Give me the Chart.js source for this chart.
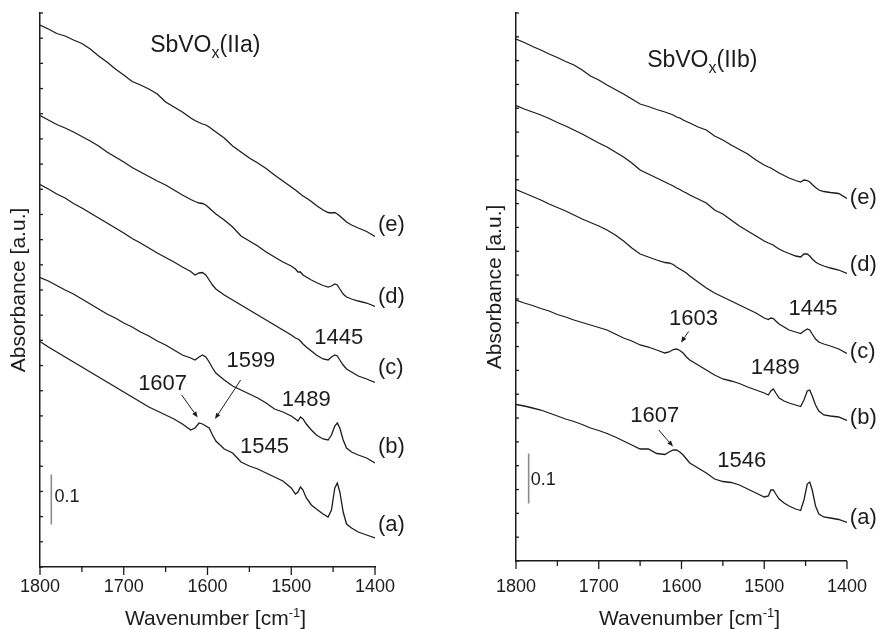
<!DOCTYPE html>
<html>
<head>
<meta charset="utf-8">
<title>SbVOx spectra</title>
<style>
  body { margin: 0; background: #fff; }
  .panel { position: absolute; top: 0; width: 441px; height: 629px; }
</style>
</head>
<body>
<div class="panel" style="left:0"><canvas id="iia" width="441" height="629"></canvas></div>
<div class="panel" style="left:441px"><canvas id="iib" width="441" height="629"></canvas></div>
<script src="https://cdn.jsdelivr.net/npm/chart.js@4.4.1/dist/chart.umd.min.js"></script>
<script>
// wavenumber grid shared by all spectra (cm-1)
const wavenumbers = [1800,1790,1780,1770,1760,1750,1740,1730,1720,1710,1700,1690,1680,1670,1660,1650,1640,1630,1620,
  1615,1610,1606,1602,1598,1594,1590,
  1580,1570,1560,1550,1540,1530,1520,1510,1500,
  1495,1492,1489,1486,1482,1476,1470,1462,1456,1452,1448,1445,1442,1438,1434,1428,1420,1410,1400];

const xTicks = [1800, 1700, 1600, 1500, 1400];
const curveNames = ['(a)', '(b)', '(c)', '(d)', '(e)'];

// SbVOx(IIa), absorbance (stacked)
const iiaA = [0.451,0.440,0.430,0.420,0.410,0.400,0.390,0.380,0.370,0.360,0.350,0.340,0.330,0.320,0.312,0.304,0.296,0.286,0.274,
  0.278,0.288,0.286,0.282,0.278,0.264,0.252,
  0.236,0.228,0.210,0.202,0.196,0.188,0.180,0.172,0.158,
  0.146,0.150,0.160,0.154,0.138,0.124,0.116,0.106,0.100,0.114,0.158,0.168,0.150,0.110,0.086,0.078,0.070,0.064,0.058];
const iiaB = [0.579,0.572,0.563,0.554,0.546,0.536,0.526,0.516,0.506,0.498,0.488,0.480,0.470,0.462,0.452,0.444,0.434,0.424,0.418,
  0.414,0.420,0.424,0.420,0.410,0.398,0.388,
  0.374,0.362,0.354,0.346,0.338,0.328,0.316,0.310,0.302,
  0.296,0.292,0.300,0.296,0.286,0.274,0.264,0.256,0.254,0.264,0.282,0.288,0.278,0.254,0.238,0.230,0.224,0.218,0.208];
const iiaC = [0.765,0.756,0.746,0.738,0.727,0.718,0.708,0.698,0.688,0.678,0.668,0.657,0.648,0.638,0.628,0.619,0.610,0.600,0.591,
  0.584,0.588,0.589,0.584,0.574,0.564,0.556,
  0.544,0.534,0.524,0.514,0.504,0.494,0.484,0.474,0.464,
  0.458,0.456,0.452,0.446,0.440,0.432,0.424,0.416,0.414,0.420,0.424,0.422,0.414,0.404,0.396,0.390,0.382,0.376,0.369];
const iiaD = [0.903,0.894,0.885,0.878,0.870,0.861,0.852,0.842,0.830,0.820,0.810,0.799,0.790,0.781,0.772,0.764,0.754,0.744,0.735,
  0.731,0.728,0.727,0.724,0.718,0.712,0.706,
  0.694,0.680,0.662,0.652,0.642,0.630,0.620,0.610,0.602,
  0.596,0.590,0.590,0.584,0.580,0.574,0.569,0.563,0.560,0.562,0.566,0.564,0.556,0.546,0.540,0.536,0.532,0.528,0.521];
const iiaE = [1.084,1.076,1.067,1.062,1.054,1.047,1.036,1.022,1.010,0.996,0.984,0.971,0.964,0.956,0.946,0.930,0.920,0.910,0.898,
  0.893,0.889,0.886,0.884,0.880,0.875,0.870,
  0.858,0.842,0.830,0.818,0.808,0.797,0.784,0.772,0.760,
  0.754,0.750,0.746,0.742,0.738,0.731,0.723,0.714,0.709,0.708,0.709,0.706,0.702,0.696,0.690,0.684,0.678,0.671,0.661];

// SbVOx(IIb), absorbance (stacked)
const iibA = [0.313,0.310,0.306,0.302,0.296,0.290,0.284,0.279,0.273,0.266,0.261,0.255,0.248,0.240,0.232,0.224,0.224,0.215,0.213,
  0.218,0.222,0.222,0.218,0.212,0.204,0.196,
  0.186,0.176,0.164,0.159,0.157,0.152,0.144,0.136,0.128,
  0.130,0.142,0.142,0.134,0.124,0.116,0.110,0.104,0.101,0.122,0.154,0.158,0.142,0.110,0.094,0.088,0.086,0.083,0.077];
const iibB = [0.522,0.516,0.511,0.505,0.500,0.493,0.488,0.482,0.477,0.472,0.467,0.462,0.454,0.446,0.440,0.432,0.428,0.422,0.416,
  0.418,0.423,0.424,0.421,0.416,0.408,0.402,
  0.392,0.382,0.372,0.364,0.360,0.355,0.348,0.342,0.336,
  0.332,0.340,0.344,0.336,0.326,0.320,0.316,0.312,0.309,0.322,0.340,0.342,0.330,0.312,0.300,0.292,0.290,0.288,0.281];
const iibC = [0.743,0.736,0.729,0.722,0.714,0.707,0.700,0.692,0.684,0.677,0.670,0.662,0.652,0.640,0.626,0.614,0.608,0.602,0.597,
  0.596,0.593,0.588,0.584,0.580,0.576,0.570,
  0.558,0.546,0.536,0.528,0.520,0.512,0.504,0.496,0.486,
  0.483,0.486,0.485,0.480,0.474,0.468,0.462,0.458,0.455,0.460,0.464,0.462,0.454,0.444,0.438,0.434,0.430,0.424,0.415];
const iibD = [0.911,0.904,0.898,0.892,0.885,0.877,0.870,0.862,0.854,0.845,0.836,0.828,0.818,0.808,0.796,0.782,0.774,0.766,0.758,
  0.754,0.750,0.746,0.743,0.739,0.736,0.732,
  0.724,0.716,0.702,0.694,0.682,0.670,0.660,0.650,0.640,
  0.636,0.634,0.632,0.628,0.624,0.619,0.615,0.610,0.608,0.614,0.614,0.610,0.604,0.598,0.594,0.590,0.586,0.582,0.575];
const iibE = [1.044,1.037,1.029,1.022,1.014,1.007,0.999,0.992,0.982,0.970,0.962,0.952,0.943,0.934,0.924,0.914,0.909,0.903,0.898,
  0.895,0.892,0.888,0.886,0.882,0.879,0.876,
  0.868,0.862,0.850,0.842,0.832,0.823,0.814,0.802,0.792,
  0.788,0.786,0.783,0.780,0.776,0.771,0.766,0.761,0.758,0.762,0.761,0.758,0.753,0.747,0.742,0.739,0.737,0.735,0.725];

const BAR_SIZE = 0.1; // absorbance scale bar

const FONT = '"Liberation Sans", Arial, Helvetica, sans-serif';
const INK = '#1c1c1c';

function drawParts(ctx, parts, x, y, align) {
  let total = 0;
  parts.forEach(([t, size]) => { ctx.font = size + 'px ' + FONT; total += ctx.measureText(t).width; });
  let cx = align === 'center' ? x - total / 2 : x;
  ctx.textAlign = 'left';
  ctx.textBaseline = 'alphabetic';
  parts.forEach(([t, size, shift]) => {
    ctx.font = size + 'px ' + FONT;
    ctx.fillText(t, cx, y + (shift || 0));
    cx += ctx.measureText(t).width;
  });
}

function drawArrow(ctx, x1, y1, x2, y2) {
  const ang = Math.atan2(y2 - y1, x2 - x1);
  const head = 6, half = 2.4;
  ctx.beginPath();
  ctx.moveTo(x1, y1);
  ctx.lineTo(x2 - Math.cos(ang) * head, y2 - Math.sin(ang) * head);
  ctx.stroke();
  ctx.beginPath();
  ctx.moveTo(x2, y2);
  ctx.lineTo(x2 - Math.cos(ang) * head - Math.sin(ang) * half, y2 - Math.sin(ang) * head + Math.cos(ang) * half);
  ctx.lineTo(x2 - Math.cos(ang) * head + Math.sin(ang) * half, y2 - Math.sin(ang) * head - Math.cos(ang) * half);
  ctx.closePath();
  ctx.fill();
}

function makeDecor(p) {
  return {
    id: 'decor',
    afterDraw(chart) {
      const {ctx, chartArea: area, scales: {x, y}} = chart;
      const px = v => x.getPixelForValue(v);
      const py = v => y.getPixelForValue(v);
      ctx.save();
      ctx.strokeStyle = INK;
      ctx.fillStyle = INK;
      ctx.lineWidth = 1.3;

      // outward ticks on the wavenumber axis, short ones at the 50s
      x.ticks.forEach(t => {
        const tx = px(t.value);
        const len = xTicks.includes(t.value) ? 8 : 5;
        ctx.beginPath();
        ctx.moveTo(tx, area.bottom);
        ctx.lineTo(tx, area.bottom + len);
        ctx.stroke();
      });
      // small inward ticks on the absorbance axis
      y.ticks.forEach(t => {
        const ty = py(t.value);
        ctx.beginPath();
        ctx.moveTo(area.left, ty);
        ctx.lineTo(area.left + 3, ty);
        ctx.stroke();
      });

      // axis titles
      drawParts(ctx, [['Wavenumber [cm', 21], ['-1', 13, -8], [']', 21]],
        (area.left + area.right) / 2 + 8, 625, 'center');
      ctx.save();
      ctx.translate(area.left - 15, (area.top + area.bottom) / 2);
      ctx.rotate(-Math.PI / 2);
      drawParts(ctx, [['Absorbance [a.u.]', 21]], 0, 0, 'center');
      ctx.restore();

      // sample title
      drawParts(ctx, [['SbVO', 23], ['x', 16, 6.5], [p.title, 23]], px(p.titleAt[0]), py(p.titleAt[1]), 'left');

      // curve letters at the right end of each trace
      p.curveLabelY.forEach((v, i) => drawParts(ctx, [[curveNames[i], 22]], px(1396.5), py(v), 'left'));

      // band positions
      p.bands.forEach(b => drawParts(ctx, [[b.text, 22]], px(b.x), py(b.y), 'center'));
      ctx.lineWidth = 1;
      p.arrows.forEach(a => drawArrow(ctx, px(a[0]), py(a[1]), px(a[2]), py(a[3])));

      // scale bar value
      drawParts(ctx, [[String(BAR_SIZE), 18]], px(p.barLabelAt[0]), py(p.barLabelAt[1]), 'left');
      ctx.restore();
    }
  };
}

function buildPanel(canvasId, p) {
  const datasets = p.series.map(values => ({
    data: wavenumbers.map((w, i) => ({x: w, y: values[i]})),
    borderColor: INK,
    borderWidth: 1.3,
    pointRadius: 0,
    tension: 0,
    fill: false
  }));
  datasets.push({
    data: [{x: p.bar.at, y: p.bar.from}, {x: p.bar.at, y: p.bar.from + BAR_SIZE}],
    borderColor: '#8c8c8c',
    borderWidth: 1.6,
    pointRadius: 0
  });

  return new Chart(document.getElementById(canvasId), {
    type: 'line',
    data: {datasets},
    options: {
      responsive: false,
      animation: false,
      devicePixelRatio: 1,
      layout: {padding: p.padding},
      plugins: {legend: {display: false}, tooltip: {enabled: false}},
      scales: {
        x: {
          type: 'linear', reverse: true, min: 1400, max: 1800,
          grid: {display: false, drawTicks: false},
          border: {color: INK, width: 1.5},
          ticks: {
            stepSize: 50, autoSkip: false, maxRotation: 0, minRotation: 0,
            padding: p.tickPad, color: INK,
            font: {family: FONT, size: 18},
            callback: v => xTicks.includes(v) ? String(v) : ''
          },
          afterFit: s => { s.height = p.xHeight; }
        },
        y: {
          type: 'linear', min: 0, max: p.yMax,
          grid: {display: false, drawTicks: false},
          border: {color: INK, width: 1.5},
          ticks: {display: false},
          afterBuildTicks: s => {
            s.ticks = Array.from({length: p.yTickCount + 1}, (_, i) => ({value: i * p.yMax / p.yTickCount}));
          },
          afterFit: s => { s.width = p.yWidth; }
        }
      }
    },
    plugins: [makeDecor(p)]
  });
}

buildPanel('iia', {
  series: [iiaA, iiaB, iiaC, iiaD, iiaE],
  yMax: 1.108, yTickCount: 22,
  padding: {left: 0, right: 66, top: 13, bottom: 0},
  yWidth: 40, xHeight: 62, tickPad: 9,
  title: '(IIa)', titleAt: [1668.5, 1.031],
  curveLabelY: [0.073, 0.229, 0.387, 0.529, 0.673],
  bands: [
    {text: '1445', x: 1443.3, y: 0.446},
    {text: '1599', x: 1548.2, y: 0.401},
    {text: '1607', x: 1653.6, y: 0.354},
    {text: '1489', x: 1482, y: 0.323},
    {text: '1545', x: 1532, y: 0.229}
  ],
  arrows: [[1630.8, 0.344, 1611.7, 0.299], [1560.4, 0.374, 1591.1, 0.296]],
  bar: {at: 1786.5, from: 0.085},
  barLabelAt: [1782.6, 0.131]
});

buildPanel('iib', {
  series: [iibA, iibB, iibC, iibD, iibE],
  yMax: 1.096, yTickCount: 23,
  padding: {left: 0, right: 34, top: 13, bottom: 0},
  yWidth: 75, xHeight: 68, tickPad: 15,
  title: '(IIb)', titleAt: [1641.5, 0.989],
  curveLabelY: [0.075, 0.275, 0.407, 0.581, 0.715],
  bands: [
    {text: '1445', x: 1441, y: 0.492},
    {text: '1603', x: 1585.4, y: 0.472},
    {text: '1489', x: 1486.7, y: 0.374},
    {text: '1607', x: 1632.3, y: 0.279},
    {text: '1546', x: 1527.1, y: 0.189}
  ],
  arrows: [[1591.4, 0.459, 1600.6, 0.437], [1627.5, 0.262, 1610.2, 0.229]],
  bar: {at: 1784.7, from: 0.115},
  barLabelAt: [1782.3, 0.152]
});
</script>
</body>
</html>
